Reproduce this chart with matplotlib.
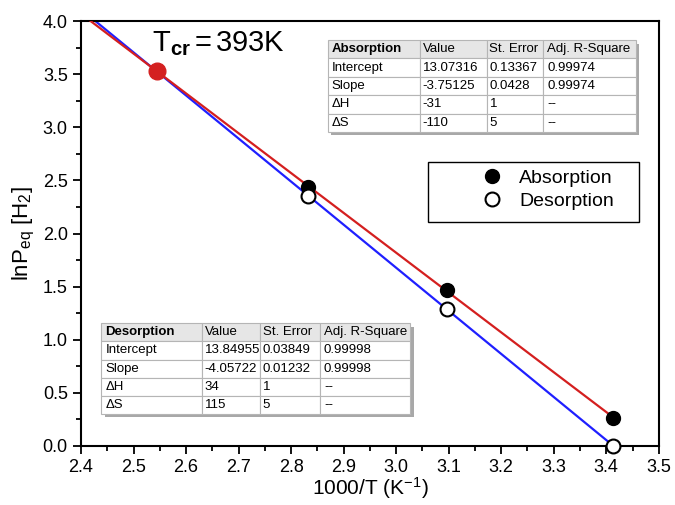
import numpy as np
import matplotlib
matplotlib.use("Agg")
import matplotlib.pyplot as plt
from matplotlib.patches import Rectangle
from matplotlib.ticker import MultipleLocator

plt.rcParams['font.family'] = ['Liberation Sans', 'DejaVu Sans']
plt.rcParams['mathtext.fontset'] = 'custom'
plt.rcParams['mathtext.rm'] = 'Liberation Sans'
plt.rcParams['mathtext.it'] = 'Liberation Sans'
plt.rcParams['mathtext.bf'] = 'Liberation Sans:bold'

# measured points
x_pts = [2.833, 3.096, 3.413]
abs_y = [2.44, 1.47, 0.26]
des_y = [2.35, 1.29, 0.0]

# crossing point (T_cr)
cross_x, cross_y = 2.545, 3.53

# fit tables
table_cols = ['Value', 'St. Error', 'Adj. R-Square']
table_rows = ['Intercept', 'Slope', '\u0394H', '\u0394S']
abs_cells = [['13.07316', '0.13367', '0.99974'],
             ['-3.75125', '0.0428', '0.99974'],
             ['-31', '1', '--'],
             ['-110', '5', '--']]
des_cells = [['13.84955', '0.03849', '0.99998'],
             ['-4.05722', '0.01232', '0.99998'],
             ['34', '1', '--'],
             ['115', '5', '--']]
abs_fit = (13.07316, -3.75125)
des_fit = (13.84955, -4.05722)

fig = plt.figure(figsize=(6.75, 5.05), dpi=100)
ax = fig.add_axes([0.12, 0.117, 0.856, 0.841])

xx = np.linspace(2.40, x_pts[-1], 200)
ax.plot(xx, des_fit[0] + des_fit[1] * xx, color='#1f1fff', lw=1.6, zorder=2)
ax.plot(xx, abs_fit[0] + abs_fit[1] * xx, color='#d41f1f', lw=1.6, zorder=3)

ax.plot(x_pts, abs_y, 'o', color='black', ms=10, zorder=4, label='Absorption')
ax.plot(x_pts, des_y, 'o', mfc='white', mec='black', mew=1.5, ms=10, zorder=4,
        label='Desorption', clip_on=False)
ax.plot([cross_x], [cross_y], 'o', color='#d42020', ms=12, zorder=5)

ax.text(2.535, 3.79, r'T$_{\mathbf{cr}}$$\,$=$\,$393K', fontsize=21, ha='left', va='center')

ax.set_xlim(2.4, 3.5)
ax.set_ylim(0.0, 4.0)
ax.xaxis.set_major_locator(MultipleLocator(0.1))
ax.xaxis.set_minor_locator(MultipleLocator(0.05))
ax.yaxis.set_major_locator(MultipleLocator(0.5))
ax.yaxis.set_minor_locator(MultipleLocator(0.25))
ax.tick_params(which='major', direction='out', length=6, width=1.3, labelsize=13)
ax.tick_params(which='minor', direction='out', length=3.5, width=1.3)
for s in ax.spines.values():
    s.set_linewidth(1.5)
ax.set_xlabel('1000/T (K$^{-1}$)', fontsize=15, labelpad=-1)
ax.set_ylabel(r'lnP$_{\rm eq}$ [H$_2$]', fontsize=16, labelpad=4)

# legend: frame drawn separately, entries placed inside it
ax.add_patch(Rectangle((0.600, 0.527), 0.365, 0.141, transform=ax.transAxes,
                       facecolor='white', edgecolor='black', lw=1.0, zorder=6))
leg = ax.legend(loc='upper left', bbox_to_anchor=(0.694, 0.652), frameon=False,
                fontsize=14, handlelength=1.0, handletextpad=0.9, borderpad=0,
                borderaxespad=0, labelspacing=0.3)
leg.set_zorder(7)


def draw_table(title, cells, bbox, widths):
    x0, y0, w, h = bbox
    ax.add_patch(Rectangle((x0 + 0.006, y0 - 0.008), w, h, transform=ax.transAxes,
                           facecolor='#a8a8a8', edgecolor='none', zorder=6))
    text = [[title] + table_cols] + [[r] + c for r, c in zip(table_rows, cells)]
    tb = ax.table(cellText=text, bbox=bbox, colWidths=widths, cellLoc='left', zorder=7)
    tb.auto_set_font_size(False)
    tb.set_fontsize(9.5)
    for (r, c), cell in tb.get_celld().items():
        cell.set_edgecolor('#b5b5b5')
        cell.set_linewidth(0.8)
        cell.PAD = 0.04
        if r == 0:
            cell.set_facecolor('#e6e6e6')
            if c == 0:
                cell.get_text().set_fontweight('bold')
        else:
            cell.set_facecolor('white')


draw_table('Absorption', abs_cells, [0.427, 0.739, 0.533, 0.2165], [92, 67, 56, 92])
draw_table('Desorption', des_cells, [0.035, 0.075, 0.535, 0.214], [101, 58, 60, 90])

fig.savefig('out.png', dpi=100)
